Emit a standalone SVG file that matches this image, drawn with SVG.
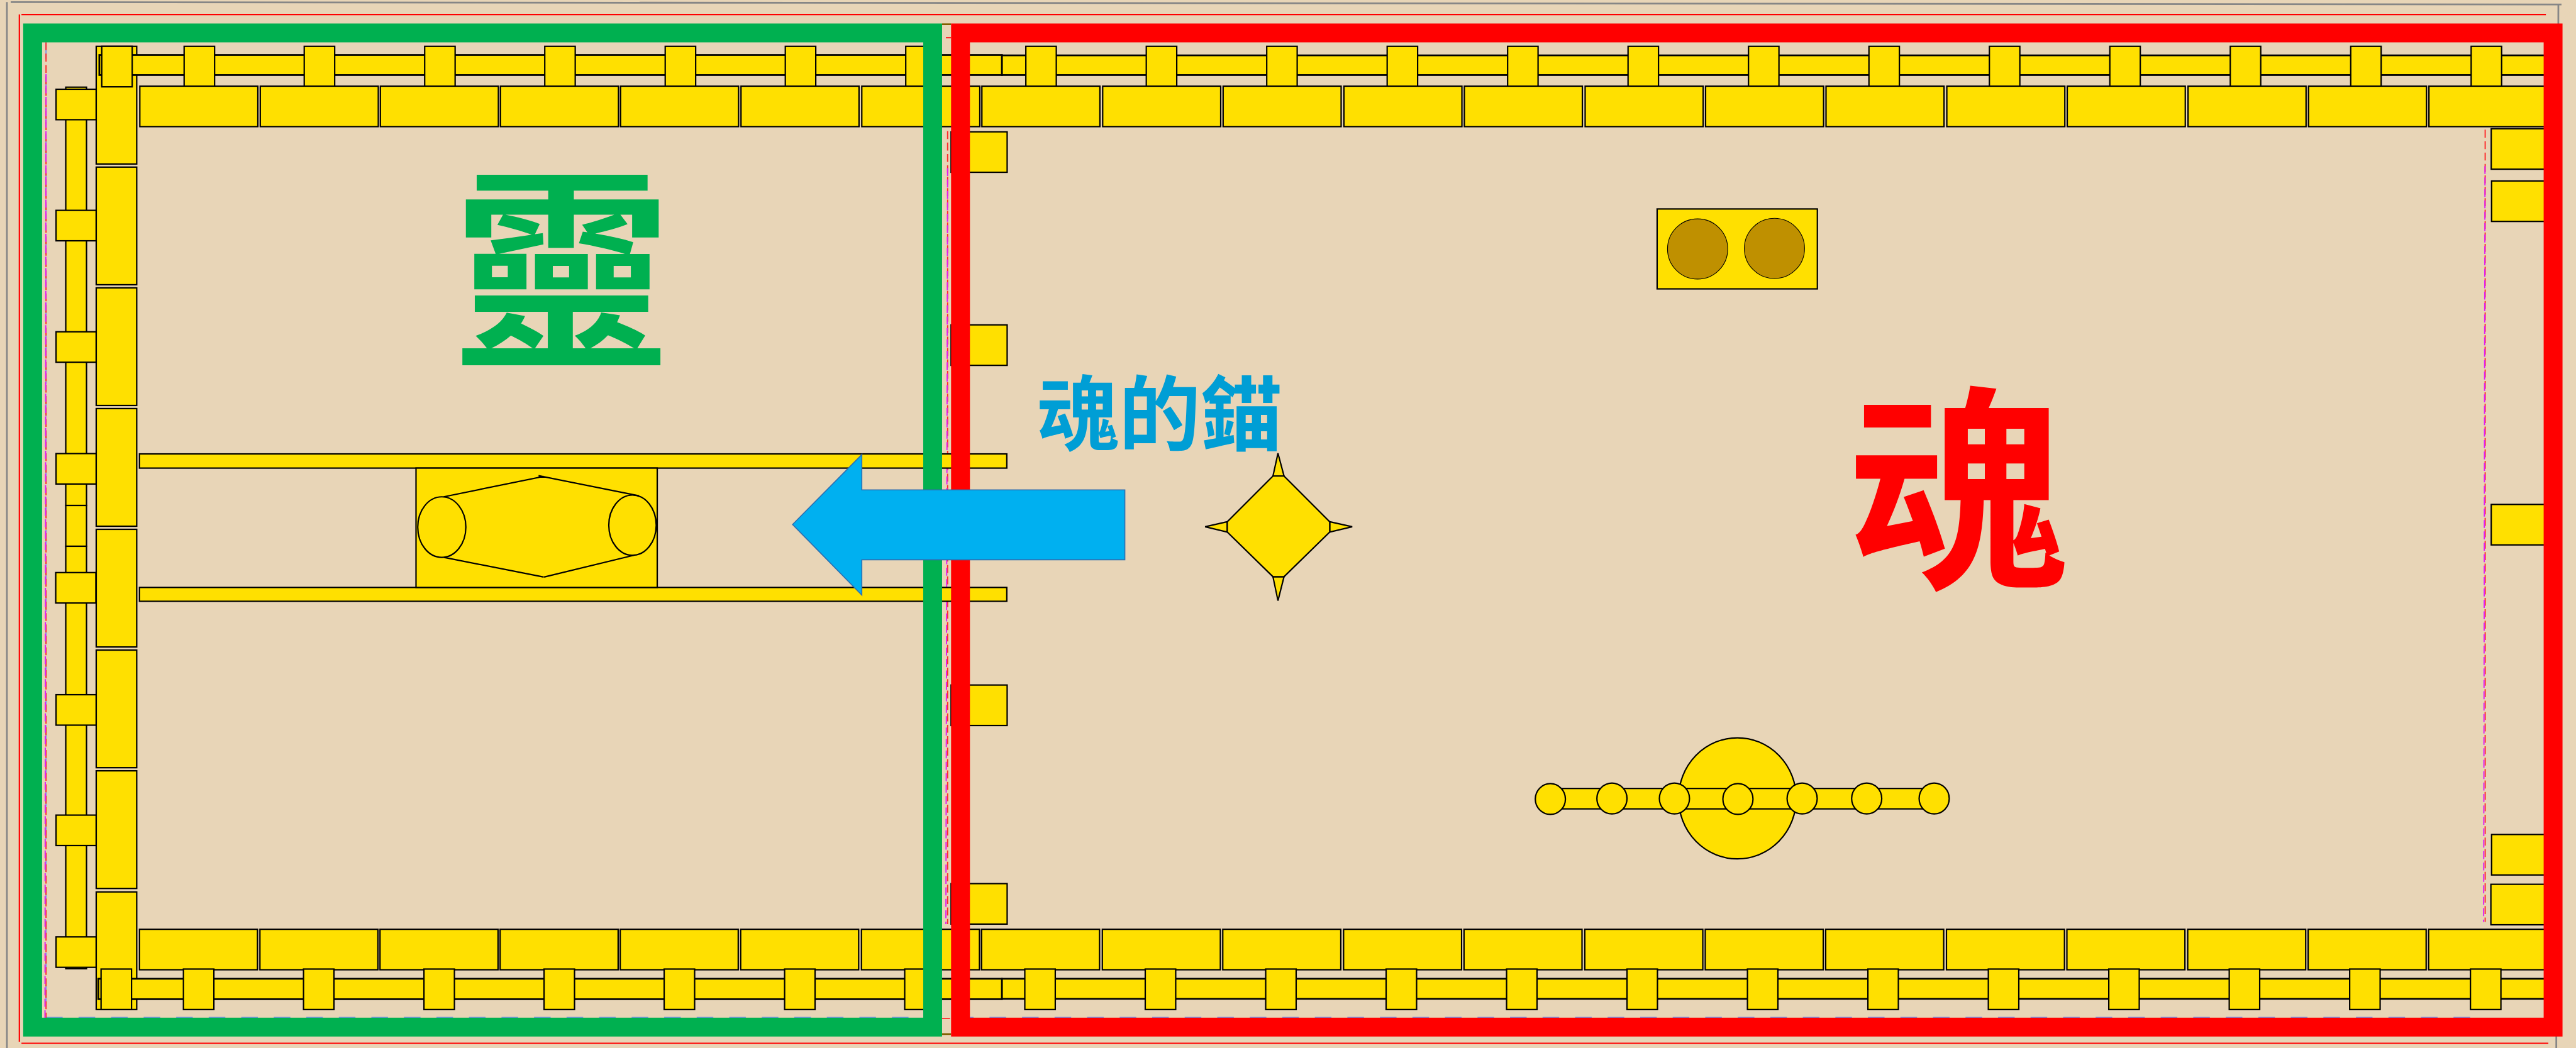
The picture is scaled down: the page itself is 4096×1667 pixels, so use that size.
<svg xmlns="http://www.w3.org/2000/svg" xmlns:xlink="http://www.w3.org/1999/xlink" width="4096" height="1667" viewBox="0 0 4096 1667">
<style>
.y{fill:#ffe000;stroke:#000;stroke-width:4}
.t{fill:#ffe000;stroke:#000;stroke-width:5}
.l{fill:none;stroke:#000;stroke-width:4}
.d{fill:none;stroke-width:3.5;stroke-dasharray:23 10}
.red{stroke:#ff2a2a}.mag{stroke:#e01ef5}.blu{stroke:#7c95e4;stroke-dasharray:48 46}
.cjk{font-family:"Noto Sans CJK TC","Noto Sans CJK SC",sans-serif;font-weight:700}
</style>
<defs>
<rect id="bolt" class="y" width="88" height="117"/>
<rect id="plate" class="y" width="341" height="117"/>
<rect id="pillar" class="y" width="117" height="340"/>
<rect id="cap" class="y" width="116" height="88"/>
<rect id="side" class="y" width="162" height="117"/>
<rect id="rside" class="y" width="190" height="117"/>
<ellipse id="bead" class="y" rx="43.5" ry="44.5"/>
</defs>
<rect width="4096" height="1667" fill="#e8d5b7"/>
<g transform="scale(0.55032)">
<g id="border-lines">
<path d="M31 6L7401 13M20 6V3030M7392 12L7386 3030" fill="none" stroke="#868686" stroke-width="5"/>
<path d="M62 42H7356M62 3015.500H7363M56 42V3011" fill="none" stroke="#f00" stroke-width="4"/>
</g>
<g id="dashed-lines">
<path class="d blu" d="M133 122V2942M133 106H7180M133 2941H7180"/>
<path class="d red" d="M133 122V2942M2738 379V2671M7180.500 375V2665M2733 109H2748M2722 2944H2748"/>
<path class="d mag" d="M133 214L130 2942M2738 486L2733 2671M7180 480L7176 2665"/>
</g>
<g id="left-column">
<rect class="y" x="190" y="252" width="60" height="1209"/>
<rect class="y" x="190" y="1461" width="60" height="118"/>
<rect class="y" x="190" y="1579" width="60" height="1221"/>
<use href="#cap" x="162" y="258"/><use href="#cap" x="162" y="608"/><use href="#cap" x="162" y="959"/><use href="#cap" x="162" y="1311"/><use href="#cap" x="161" y="1655"/><use href="#cap" x="162" y="2008"/><use href="#cap" x="162" y="2356"/><use href="#cap" x="162" y="2708"/>
</g>
<g id="pillars">
<use href="#pillar" x="278" y="134"/><use href="#pillar" x="278" y="483"/><use href="#pillar" x="278" y="832"/><use href="#pillar" x="278" y="1181"/><use href="#pillar" x="278" y="1530"/><use href="#pillar" x="278" y="1879"/><use href="#pillar" x="278" y="2228"/><use href="#pillar" x="278" y="2578"/>
</g>
<g id="top-beam">
<rect class="t" x="287" y="159" width="2608" height="58"/>
<rect class="t" x="2895" y="160" width="4480" height="57"/>
<use href="#bolt" x="294" y="134"/><use href="#bolt" x="532" y="134"/><use href="#bolt" x="879" y="134"/><use href="#bolt" x="1227" y="134"/><use href="#bolt" x="1574" y="134"/><use href="#bolt" x="1922" y="134"/><use href="#bolt" x="2269" y="134"/><use href="#bolt" x="2617" y="134"/>
<use href="#bolt" x="2964" y="134"/><use href="#bolt" x="3312" y="134"/><use href="#bolt" x="3660" y="134"/><use href="#bolt" x="4008" y="134"/><use href="#bolt" x="4356" y="134"/><use href="#bolt" x="4704" y="134"/><use href="#bolt" x="5052" y="134"/><use href="#bolt" x="5400" y="134"/><use href="#bolt" x="5748" y="134"/><use href="#bolt" x="6096" y="134"/><use href="#bolt" x="6444" y="134"/><use href="#bolt" x="6792" y="134"/><use href="#bolt" x="7140" y="134"/>
</g>
<g id="top-plates">
<use href="#plate" x="404" y="249"/><use href="#plate" x="752" y="249"/><use href="#plate" x="1099" y="249"/><use href="#plate" x="1446" y="249"/><use href="#plate" x="1793" y="249"/><use href="#plate" x="2141" y="249"/><use href="#plate" x="2490" y="249"/><use href="#plate" x="2837" y="249"/>
<use href="#plate" x="3186" y="249"/><use href="#plate" x="3534" y="249"/><use href="#plate" x="3883" y="249"/><use href="#plate" x="4231" y="249"/><use href="#plate" x="4580" y="249"/><use href="#plate" x="4928" y="249"/><use href="#plate" x="5276" y="249"/><use href="#plate" x="5625" y="249"/><use href="#plate" x="5973" y="249"/><use href="#plate" x="6322" y="249"/><use href="#plate" x="6670" y="249"/><use href="#plate" x="7018" y="249"/>
</g>
<g id="bottom-plates">
<use href="#plate" x="403" y="2686"/><use href="#plate" x="751" y="2686"/><use href="#plate" x="1098" y="2686"/><use href="#plate" x="1445" y="2686"/><use href="#plate" x="1792" y="2686"/><use href="#plate" x="2140" y="2686"/><use href="#plate" x="2489" y="2686"/><use href="#plate" x="2836" y="2686"/>
<use href="#plate" x="3185" y="2686"/><use href="#plate" x="3533" y="2686"/><use href="#plate" x="3882" y="2686"/><use href="#plate" x="4230" y="2686"/><use href="#plate" x="4579" y="2686"/><use href="#plate" x="4927" y="2686"/><use href="#plate" x="5275" y="2686"/><use href="#plate" x="5624" y="2686"/><use href="#plate" x="5972" y="2686"/><use href="#plate" x="6321" y="2686"/><use href="#plate" x="6669" y="2686"/><use href="#plate" x="7017" y="2686"/>
</g>
<g id="bottom-beam">
<rect class="t" x="284" y="2829" width="2611" height="59"/>
<rect class="t" x="2895" y="2829" width="4480" height="58"/>
<use href="#bolt" x="292" y="2801"/><use href="#bolt" x="530" y="2801"/><use href="#bolt" x="877" y="2801"/><use href="#bolt" x="1225" y="2801"/><use href="#bolt" x="1572" y="2801"/><use href="#bolt" x="1919" y="2801"/><use href="#bolt" x="2267" y="2801"/><use href="#bolt" x="2614" y="2801"/>
<use href="#bolt" x="2961" y="2801"/><use href="#bolt" x="3309" y="2801"/><use href="#bolt" x="3657" y="2801"/><use href="#bolt" x="4005" y="2801"/><use href="#bolt" x="4353" y="2801"/><use href="#bolt" x="4701" y="2801"/><use href="#bolt" x="5049" y="2801"/><use href="#bolt" x="5397" y="2801"/><use href="#bolt" x="5745" y="2801"/><use href="#bolt" x="6093" y="2801"/><use href="#bolt" x="6441" y="2801"/><use href="#bolt" x="6789" y="2801"/><use href="#bolt" x="7138" y="2801"/>
</g>
<g id="side-plates">
<use href="#side" x="2748" y="381"/><use href="#side" x="2748" y="939"/><use href="#side" x="2748" y="1980"/><use href="#side" x="2748" y="2554"/>
<use href="#rside" x="7198" y="372"/><use href="#rside" x="7199" y="523"/><use href="#rside" x="7198" y="1458"/><use href="#rside" x="7199" y="2412"/><use href="#rside" x="7197" y="2556"/>
</g>
<g id="cross-beams">
<rect class="y" x="403" y="1312" width="2506" height="41"/>
<rect class="y" x="403" y="1698" width="2506" height="40"/>
</g>
<g id="cylinder">
<rect class="y" x="1202" y="1353" width="697" height="345"/>
<ellipse class="l" cx="1276.500" cy="1523.500" rx="69.500" ry="87.500"/>
<ellipse class="l" cx="1827.500" cy="1518" rx="68.500" ry="87"/>
<path class="l" d="M1282 1436L1571 1377M1556 1375L1846 1433M1283 1611L1571 1668M1572 1668L1835 1604"/>
</g>
<g id="twin-circles">
<rect class="y" x="4788" y="604" width="463" height="231"/>
<ellipse cx="4905" cy="719.500" rx="87" ry="87" fill="#bf9000" stroke="#000" stroke-width="2"/>
<ellipse cx="5127" cy="718" rx="87" ry="87" fill="#bf9000" stroke="#000" stroke-width="2"/>
</g>
<g id="star">
<path class="y" d="M3678 1376L3692.500 1310L3710 1376ZM3678 1667L3692.500 1736L3710 1667ZM3546 1508L3482 1522.500L3546 1538ZM3842 1508L3907 1522.500L3842 1538Z"/>
<path class="y" d="M3678 1376H3710L3842 1508V1538L3710 1667H3678L3546 1538V1508Z"/>
</g>
<g id="shaft">
<ellipse class="y" cx="5020" cy="2307.500" rx="170" ry="175"/>
<rect class="y" x="4514" y="2279" width="1042" height="59"/>
<use href="#bead" x="4479.500" y="2309.500"/><use href="#bead" x="4657.500" y="2308"/><use href="#bead" x="4838" y="2308"/><use href="#bead" x="5021.500" y="2309.500"/><use href="#bead" x="5207" y="2308"/><use href="#bead" x="5393.500" y="2308"/><use href="#bead" x="5588.500" y="2308"/>
</g>
<g id="frames" fill="none" stroke-width="54.500">
<path d="M2722 70H2748M2722 2989H2748" stroke="#7f6000" stroke-width="5"/>
<rect x="94.250" y="95.250" width="2600.500" height="2873.500" stroke="#00b050"/>
<rect x="2775.250" y="95.250" width="4601.500" height="2873.500" stroke="#f00"/>
</g>
<g id="labels">
<text class="cjk" x="1623" y="1018" font-size="628" text-anchor="middle" fill="#00b050">靈</text>
<text class="cjk" x="5658" y="1652" font-size="630" text-anchor="middle" fill="#f00">魂</text>
<text class="cjk" x="3351" y="1282" font-size="236" text-anchor="middle" fill="#009ed5">魂的錨</text>
</g>
<path id="arrow" d="M2290 1516L2490 1314V1416H3250V1618H2490V1720Z" fill="#00b0f0" stroke="#2f6fb0" stroke-width="3"/>
</g>
</svg>
